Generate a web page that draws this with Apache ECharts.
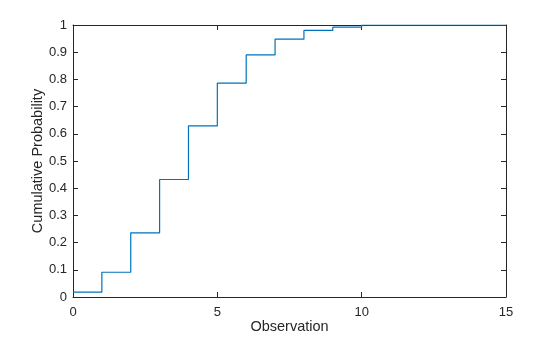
<!DOCTYPE html>
<html><head><meta charset="utf-8">
<script src="https://cdn.jsdelivr.net/npm/echarts@6/dist/echarts.min.js"></script>
<style>html,body{margin:0;padding:0;background:#fff}#c{width:560px;height:337px}</style>
</head><body><div id="c"></div>
<script>
const observations = [0, 1, 2, 3, 4, 5, 6, 7, 8, 9, 10, 15];
const cumulativeProbability = [0.018, 0.091, 0.236, 0.432, 0.629, 0.786, 0.890, 0.948, 0.980, 0.992, 1.0, 1.0];
const xTicks = [0, 5, 10, 15];
const yTicks = [0, 0.1, 0.2, 0.3, 0.4, 0.5, 0.6, 0.7, 0.8, 0.9, 1];

const axisColor = '#262626';
const font = 'Liberation Sans, Arial, Helvetica, sans-serif';
const chart = echarts.init(document.getElementById('c'), null, {renderer: 'canvas'});
const baseX = {
  type: 'value', min: xTicks[0], max: xTicks[xTicks.length - 1], interval: 5,
  axisLine: {show: true, onZero: false, lineStyle: {color: axisColor, width: 1}},
  axisTick: {show: true, inside: true, length: 5, lineStyle: {color: axisColor}},
  splitLine: {show: false}
};
const baseY = {
  type: 'value', min: yTicks[0], max: yTicks[yTicks.length - 1], interval: 0.1,
  axisLine: {show: true, onZero: false, lineStyle: {color: axisColor, width: 1}},
  axisTick: {show: true, inside: true, length: 5, lineStyle: {color: axisColor}},
  splitLine: {show: false}
};
chart.setOption({
  animation: false,
  grid: {left: 73, right: 54, top: 25, bottom: 40, containLabel: false, outerBoundsMode: 'none'},
  xAxis: [
    Object.assign({}, baseX, {
      position: 'bottom',
      name: 'Observation', nameLocation: 'middle', nameGap: 22, nameMoveOverlap: false,
      nameTextStyle: {color: axisColor, fontSize: 14.5, fontFamily: font},
      axisLabel: {color: axisColor, fontSize: 13, fontFamily: font, margin: 9}
    }),
    Object.assign({}, baseX, {position: 'top', axisLabel: {show: false}})
  ],
  yAxis: [
    Object.assign({}, baseY, {
      position: 'left',
      name: 'Cumulative Probability', nameLocation: 'middle', nameGap: 28, nameMoveOverlap: false,
      nameTextStyle: {color: axisColor, fontSize: 14.5, fontFamily: font},
      axisLabel: {color: axisColor, fontSize: 13, fontFamily: font, margin: 6}
    }),
    Object.assign({}, baseY, {position: 'right', axisLabel: {show: false}})
  ],
  series: [{
    type: 'line', step: 'end', showSymbol: false, symbol: 'none',
    xAxisIndex: 0, yAxisIndex: 0,
    lineStyle: {color: '#0072BD', width: 1.2},
    data: observations.map((x, i) => [x, cumulativeProbability[i]])
  }]
});
</script></body></html>
